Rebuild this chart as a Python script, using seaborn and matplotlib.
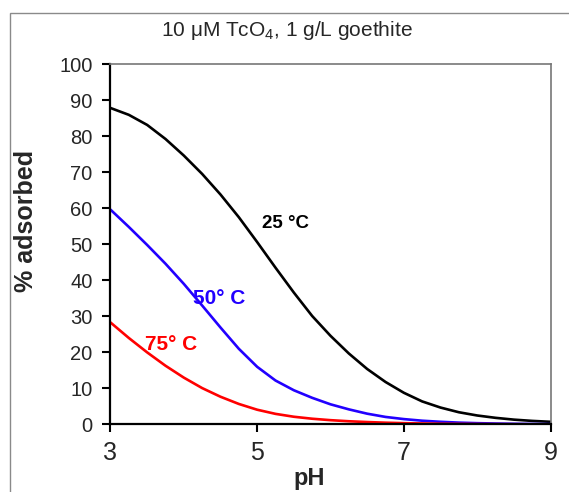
import numpy as np
import pandas as pd
import matplotlib
matplotlib.use("Agg")
import matplotlib.pyplot as plt
from matplotlib.patches import Rectangle
import seaborn as sns

# values
ph = [3.00, 3.25, 3.50, 3.75, 4.00, 4.25, 4.50, 4.75, 5.00, 5.25, 5.50, 5.75,
      6.00, 6.25, 6.50, 6.75, 7.00, 7.25, 7.50, 7.75, 8.00, 8.25, 8.50, 8.75, 9.00]
ads_25 = [87.8, 85.9, 83.1, 79.2, 74.6, 69.5, 63.8, 57.5, 50.6, 43.5, 36.6, 30.1,
          24.6, 19.7, 15.4, 11.8, 8.8, 6.4, 4.7, 3.4, 2.5, 1.85, 1.35, 1.0, 0.75]
ads_50 = [59.6, 54.8, 49.8, 44.6, 39.0, 33.0, 26.9, 21.0, 16.0, 12.2, 9.5, 7.4,
          5.6, 4.2, 3.0, 2.1, 1.5, 1.05, 0.75, 0.52, 0.37, 0.27, 0.2, 0.15, 0.11]
ads_75 = [28.3, 24.0, 20.0, 16.3, 13.0, 10.1, 7.7, 5.7, 4.1, 2.95, 2.15, 1.6,
          1.2, 0.9, 0.68, 0.5, 0.37, 0.28, 0.21, 0.16, 0.12, 0.09, 0.07, 0.05, 0.04]
temps = ["25", "50", "75"]
colors = {"25": "black", "50": "#2200ff", "75": "#ff0000"}

df = pd.DataFrame({
    "pH": ph * 3,
    "ads": ads_25 + ads_50 + ads_75,
    "T": [t for t in temps for _ in ph],
})

sns.set_theme(style="white")
plt.rcParams['font.family'] = ['Liberation Sans', 'DejaVu Sans']
plt.rcParams['mathtext.default'] = 'regular'

fig = plt.figure(figsize=(5.69, 4.92), dpi=100)
ax = fig.add_axes([0.1942, 0.1372, 0.7733, 0.7327])

sns.lineplot(data=df, x="pH", y="ads", hue="T", palette=colors, linewidth=1.9,
             errorbar=None, legend=False, ax=ax,
             solid_joinstyle='round', solid_capstyle='round')

ax.set_xlim(3, 9)
ax.set_ylim(0, 100)
ax.set_xticks([3, 5, 7, 9])
ax.set_yticks(range(0, 101, 10))
ax.set_xlabel("")
ax.set_ylabel("")
ax.tick_params(axis='x', labelsize=18, length=6, width=1.5, color='black',
               direction='out', bottom=True, pad=6)
ax.tick_params(axis='y', labelsize=14.5, length=6, width=1.5, color='black',
               direction='out', left=True, pad=7)

for s in ['left', 'bottom']:
    ax.spines[s].set_color('black')
    ax.spines[s].set_linewidth(1.6)
for s in ['top', 'right']:
    ax.spines[s].set_color('#777777')
    ax.spines[s].set_linewidth(1.2)

# curve labels
ax.text(5.39, 55.7, "25 °C", color='black', fontsize=13.5, fontweight='bold',
        ha='center', va='center')
ax.text(4.48, 35.0, "50° C", color=colors["50"], fontsize=15, fontweight='bold',
        ha='center', va='center')
ax.text(3.83, 22.1, "75° C", color=colors["75"], fontsize=15, fontweight='bold',
        ha='center', va='center')

fig.text(286.5 / 569, 1 - 30 / 492, "10 μM TcO$_4$, 1 g/L goethite",
         fontsize=15, ha='center', va='center')
fig.text(309 / 569, 1 - 478 / 492, "pH", fontsize=17, fontweight='bold',
         ha='center', va='center')
fig.text(26 / 569, 1 - 221 / 492, "% adsorbed", fontsize=18, fontweight='bold',
         rotation=90, ha='center', va='center')

# outer frame of the reference picture
fig.patches.append(Rectangle((9.5 / 569, -0.1), 1.2, 1 - 12.5 / 492 + 0.1,
                             transform=fig.transFigure, fill=False,
                             edgecolor='#8a8a8a', linewidth=1))

fig.savefig("out.png", dpi=100)
